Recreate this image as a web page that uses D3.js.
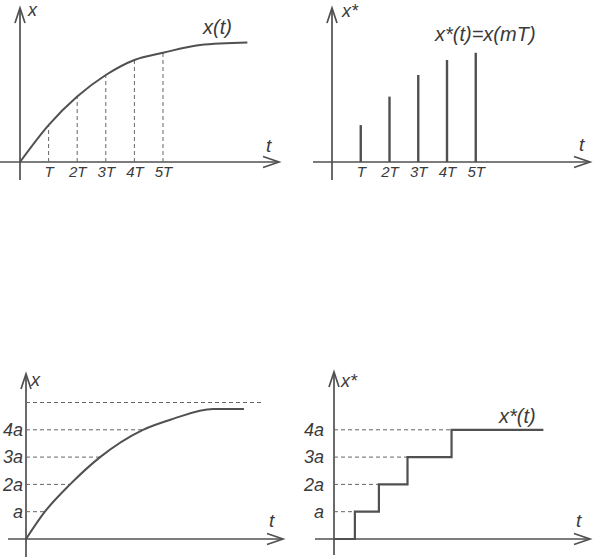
<!DOCTYPE html>
<html><head><meta charset="utf-8">
<script src="https://cdn.jsdelivr.net/npm/d3@7"></script>
<style>
body{margin:0;background:#fff}
text{font-family:"Liberation Sans",Arial,sans-serif;font-style:italic;fill:#3a3a3a}
</style>
</head><body><svg id="c" width="594" height="557"></svg>
<script>
// ---- data ----
const sampleLabels = ["T","2T","3T","4T","5T"];
const sampleTimes = [1,2,3,4,5];
const sampleValues = [1.23,2.18,2.9,3.4,3.64];
const curveTimes = [0,1,2,3,4,5,6.3,7.95];
const curveValues = [0,1.23,2.18,2.9,3.4,3.64,3.9,3.98];
const levelLabels = ["a","2a","3a","4a"];
const levelValues = [1,2,3,4];
const topLevel = 5;
const quantTimes = [0,0.66,1.54,2.59,4.09,5.14,6.54,7.62];
const quantValues = [0,1,2,3,4,4.4,4.76,4.76];
const stepTimes = [0,0.73,1.57,2.57,4.11,7.32];
const stepValues = [0,1,2,3,4,4];

const svg = d3.select("#c");
svg.append("rect").attr("width",594).attr("height",557).attr("fill","#fff");
const LINE = "#505050", DASH = "#666";

function interpT(ts, vs, v){
  for(let i=1;i<vs.length;i++){
    if(vs[i]>=v){const f=(v-vs[i-1])/(vs[i]-vs[i-1]);return ts[i-1]+f*(ts[i]-ts[i-1]);}
  }
  return ts[ts.length-1];
}

function panel(cfg){
  const g = svg.append("g");
  const x = d3.scaleLinear().domain([0,9]).range([cfg.ox, cfg.ox+9*cfg.unit]);
  const y = d3.scaleLinear().domain([0,5]).range([cfg.oy, cfg.oy-5*cfg.vunit]);
  g.append("line").attr("x1",cfg.xStart).attr("x2",cfg.xEnd).attr("y1",cfg.oy).attr("y2",cfg.oy)
    .attr("stroke",LINE).attr("stroke-width",1.7);
  g.append("line").attr("x1",cfg.ox).attr("x2",cfg.ox).attr("y1",cfg.yStart).attr("y2",cfg.yEnd)
    .attr("stroke",LINE).attr("stroke-width",1.7);
  g.append("path").attr("d",`M${cfg.xEnd-16},${cfg.oy-5.5}L${cfg.xEnd},${cfg.oy}L${cfg.xEnd-16},${cfg.oy+5.5}`)
    .attr("fill","none").attr("stroke",LINE).attr("stroke-width",1.7);
  g.append("path").attr("d",`M${cfg.ox-5},${cfg.yEnd+15}L${cfg.ox},${cfg.yEnd}L${cfg.ox+5},${cfg.yEnd+15}`)
    .attr("fill","none").attr("stroke",LINE).attr("stroke-width",1.7);
  g.append("text").attr("x",cfg.xl[0]).attr("y",cfg.xl[1]).attr("font-size",18).text(cfg.yName);
  g.append("text").attr("x",cfg.tl[0]).attr("y",cfg.tl[1]).attr("font-size",19).text("t");
  return {g,x,y};
}

function styleAxis(a, size){
  a.select(".domain").remove();
  a.attr("font-family",null).attr("font-size",null);
  a.selectAll("text").attr("font-size",size).attr("fill",null);
}

// ---- Panel 1 ----
{
  const {g,x,y} = panel({ox:20,oy:162,unit:28.6,vunit:30,xStart:0,xEnd:279,yStart:180,yEnd:8,
    yName:"x",xl:[28,16],tl:[266,152]});
  sampleTimes.forEach((t,i)=>{
    g.append("line").attr("x1",x(t)).attr("x2",x(t)).attr("y1",y(0)).attr("y2",y(sampleValues[i]))
      .attr("stroke",DASH).attr("stroke-width",1).attr("stroke-dasharray","4,3");
  });
  const ax = d3.axisBottom(x).tickValues(sampleTimes).tickFormat((d,i)=>sampleLabels[i]).tickSize(0).tickPadding(4);
  styleAxis(g.append("g").attr("transform",`translate(0,${y(0)})`).call(ax), 15);
  const pts = curveTimes.map((t,i)=>[t,curveValues[i]]);
  g.append("path").attr("d",d3.line().x(d=>x(d[0])).y(d=>y(d[1])).curve(d3.curveMonotoneX)(pts))
    .attr("fill","none").attr("stroke",LINE).attr("stroke-width",2);
  g.append("text").attr("x",203).attr("y",34).attr("font-size",20).text("x(t)");
}

// ---- Panel 2 ----
{
  const {g,x,y} = panel({ox:332,oy:162,unit:28.75,vunit:30,xStart:313,xEnd:590,yStart:180,yEnd:8,
    yName:"x*",xl:[342,17],tl:[579,151]});
  sampleTimes.forEach((t,i)=>{
    g.append("line").attr("x1",x(t)).attr("x2",x(t)).attr("y1",y(0)).attr("y2",y(sampleValues[i]))
      .attr("stroke",LINE).attr("stroke-width",2.4);
  });
  const ax = d3.axisBottom(x).tickValues(sampleTimes).tickFormat((d,i)=>sampleLabels[i]).tickSize(0).tickPadding(4);
  styleAxis(g.append("g").attr("transform",`translate(0,${y(0)})`).call(ax), 15);
  g.append("text").attr("x",435).attr("y",41).attr("font-size",20).text("x*(t)=x(mT)");
}

// ---- Panel 3 ----
{
  const {g,x,y} = panel({ox:26,oy:539,unit:28.6,vunit:27.3,xStart:8,xEnd:283,yStart:557,yEnd:374,
    yName:"x",xl:[31,386],tl:[269,527]});
  levelValues.forEach(v=>{
    g.append("line").attr("x1",x(0)).attr("x2",x(interpT(quantTimes,quantValues,v))).attr("y1",y(v)).attr("y2",y(v))
      .attr("stroke",DASH).attr("stroke-width",1).attr("stroke-dasharray","4,3");
  });
  g.append("line").attr("x1",x(0)).attr("x2",x(8.25)).attr("y1",y(topLevel)).attr("y2",y(topLevel))
    .attr("stroke",DASH).attr("stroke-width",1).attr("stroke-dasharray","4,3");
  const ax = d3.axisLeft(y).tickValues(levelValues).tickFormat((d,i)=>levelLabels[i]).tickSize(0).tickPadding(3);
  styleAxis(g.append("g").attr("transform",`translate(${x(0)},0)`).call(ax), 18);
  const pts = quantTimes.map((t,i)=>[t,quantValues[i]]);
  g.append("path").attr("d",d3.line().x(d=>x(d[0])).y(d=>y(d[1])).curve(d3.curveMonotoneX)(pts))
    .attr("fill","none").attr("stroke",LINE).attr("stroke-width",2);
}

// ---- Panel 4 ----
{
  const {g,x,y} = panel({ox:334,oy:539,unit:28.6,vunit:27.3,xStart:315,xEnd:590,yStart:555,yEnd:372,
    yName:"x*",xl:[341,387],tl:[576,527]});
  levelValues.forEach((v,i)=>{
    g.append("line").attr("x1",x(0)).attr("x2",x(stepTimes[i+1])).attr("y1",y(v)).attr("y2",y(v))
      .attr("stroke",DASH).attr("stroke-width",1).attr("stroke-dasharray","4,3");
  });
  const ax = d3.axisLeft(y).tickValues(levelValues).tickFormat((d,i)=>levelLabels[i]).tickSize(0).tickPadding(10);
  styleAxis(g.append("g").attr("transform",`translate(${x(0)},0)`).call(ax), 18);
  const pts = stepTimes.map((t,i)=>[t,stepValues[i]]);
  g.append("path").attr("d",d3.line().x(d=>x(d[0])).y(d=>y(d[1])).curve(d3.curveStepAfter)(pts))
    .attr("fill","none").attr("stroke",LINE).attr("stroke-width",2.2);
  g.append("text").attr("x",499).attr("y",423).attr("font-size",20).text("x*(t)");
}
</script></body></html>
